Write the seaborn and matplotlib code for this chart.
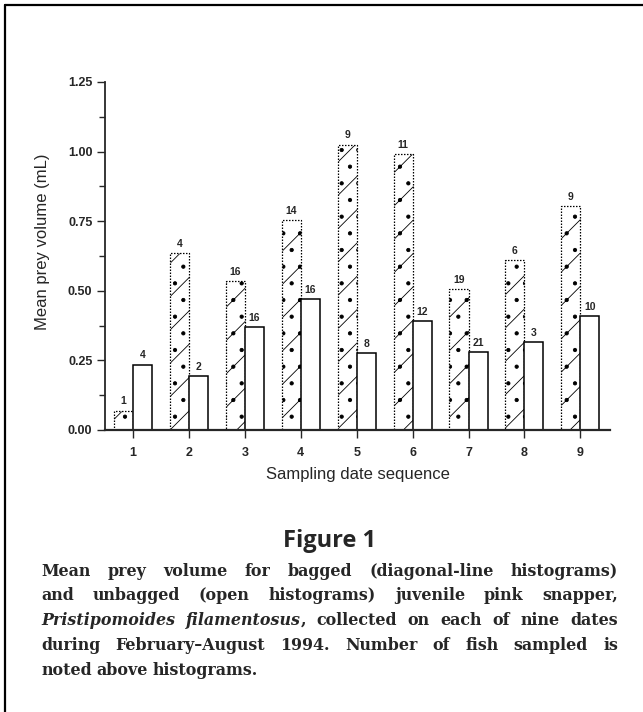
"""Mean prey volume of bagged vs unbagged juvenile pink snapper by sampling date."""

import matplotlib

matplotlib.use("Agg")
import matplotlib.pyplot as plt
import pandas as pd
import seaborn as sns
from matplotlib.lines import Line2D
from matplotlib.ticker import FormatStrFormatter, MultipleLocator

dates = ["1", "2", "3", "4", "5", "6", "7", "8", "9"]
bagged_volume = [0.07, 0.635, 0.535, 0.755, 1.025, 0.99, 0.505, 0.61, 0.805]
unbagged_volume = [0.235, 0.195, 0.37, 0.47, 0.275, 0.39, 0.28, 0.315, 0.41]
bagged_n = [1, 4, 16, 14, 9, 11, 19, 6, 9]
unbagged_n = [4, 2, 16, 16, 8, 12, 21, 3, 10]

caption_lines = [
    [("Mean", "normal"), ("prey", "normal"), ("volume", "normal"), ("for", "normal"),
     ("bagged", "normal"), ("(diagonal-line", "normal"), ("histograms)", "normal")],
    [("and", "normal"), ("unbagged", "normal"), ("(open", "normal"), ("histograms)", "normal"),
     ("juvenile", "normal"), ("pink", "normal"), ("snapper,", "normal")],
    [("Pristipomoides", "italic"), ("filamentosus", "italic"), (",", "normal"),
     ("collected", "normal"), ("on", "normal"), ("each", "normal"), ("of", "normal"),
     ("nine", "normal"), ("dates", "normal")],
    [("during", "normal"), ("February\u2013August", "normal"), ("1994.", "normal"),
     ("Number", "normal"), ("of", "normal"), ("fish", "normal"), ("sampled", "normal"),
     ("is", "normal")],
    [("noted", "normal"), ("above", "normal"), ("histograms.", "normal")],
]

W, H = 643, 712

data = pd.DataFrame({
    "date": dates * 2,
    "volume": bagged_volume + unbagged_volume,
    "group": ["bagged"] * len(dates) + ["unbagged"] * len(dates),
})

sns.set_theme(style="ticks")
plt.rcParams["font.family"] = ["Liberation Sans", "DejaVu Sans"]
plt.rcParams["hatch.linewidth"] = 0.6
plt.rcParams["hatch.color"] = "#333333"

fig = plt.figure(figsize=(W / 100, H / 100), dpi=100)
fig.patch.set_facecolor("white")
ax = fig.add_axes([105 / W, 1 - 430 / H, 505 / W, 348 / H])

sns.barplot(
    data=data, x="date", y="volume", hue="group",
    palette={"bagged": "white", "unbagged": "white"},
    width=0.68, edgecolor="black", linewidth=1.1, legend=False, ax=ax,
)

# bagged bars: stippled diagonal-line fill with a dotted outline
for bar in ax.containers[0]:
    bar.set_hatch("/.")
    bar.set_linestyle((0, (1.2, 1.2)))
    bar.set_linewidth(0.9)

ax.bar_label(ax.containers[0], labels=[str(v) for v in bagged_n], padding=3,
             fontsize=7.5, fontweight="bold")
ax.bar_label(ax.containers[1], labels=[str(v) for v in unbagged_n], padding=3,
             fontsize=7.5, fontweight="bold")

ax.set_ylim(0, 1.25)
ax.set_xlim(-0.5, 8.53)
ax.yaxis.set_major_locator(MultipleLocator(0.25))
ax.yaxis.set_minor_locator(MultipleLocator(0.125))
ax.yaxis.set_major_formatter(FormatStrFormatter("%.2f"))
ax.tick_params(axis="y", which="major", length=6, width=1.0, pad=3, labelsize=9)
ax.tick_params(axis="y", which="minor", length=4, width=1.0)
ax.tick_params(axis="x", length=6, width=1.0, pad=6, labelsize=9)
for lab in ax.get_xticklabels() + ax.get_yticklabels():
    lab.set_fontweight("bold")

sns.despine(ax=ax)
ax.spines["left"].set_linewidth(1.3)
ax.spines["bottom"].set_linewidth(1.6)
ax.grid(False)

ax.set_xlabel("Sampling date sequence", fontsize=12, labelpad=6)
ax.set_ylabel("Mean prey volume (mL)", fontsize=12)
ax.yaxis.set_label_coords(-55 / 505, 0.54)

# frame lines of the page
fig.add_artist(Line2D([5 / W, 1], [1 - 5 / H, 1 - 5 / H], color="black", lw=1.6))
fig.add_artist(Line2D([5 / W, 5 / W], [0, 1 - 5 / H], color="black", lw=1.6))

fig.text(330 / W, 1 - 541 / H, "Figure 1", ha="center", va="center",
         fontsize=17, fontweight="bold", family=["Open Sans", "DejaVu Sans"])

# justified caption, placed word by word
serif = ["DejaVu Serif"]
cap_size = 11.4
baselines = [576, 600, 625, 650, 675]
x_left, x_right = 41, 618
renderer = fig.canvas.get_renderer()
for i, line in enumerate(caption_lines):
    y = 1 - baselines[i] / H
    texts = [fig.text(0, y, w, fontsize=cap_size, fontstyle=st, fontweight="bold",
                      family=serif, va="baseline")
             for w, st in line]
    widths = [t.get_window_extent(renderer).width for t in texts]
    n_gaps = sum(1 for w, _ in line[1:] if w != ",")
    if i < len(caption_lines) - 1:
        gap = (x_right - x_left - sum(widths)) / n_gaps
    else:
        gap = cap_size * 0.4
    x = x_left
    for j, (t, wd) in enumerate(zip(texts, widths)):
        if j > 0 and line[j][0] != ",":
            x += gap
        t.set_x(x / W)
        x += wd

fig.savefig("out.png", dpi=100)
